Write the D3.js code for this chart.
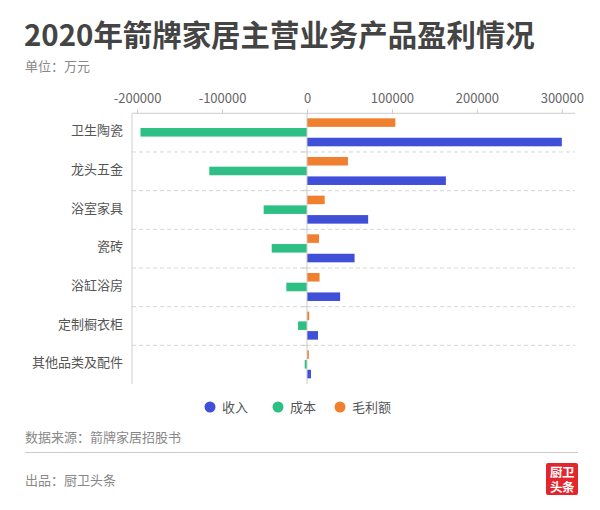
<!DOCTYPE html>
<html>
<head>
<meta charset="utf-8">
<script src="https://cdn.jsdelivr.net/npm/d3@7"></script>
<style>
  body { margin: 0; background: #fff; }
  svg { font-family: "Noto Sans CJK SC", "Noto Sans", sans-serif; }
</style>
</head>
<body>
<svg id="chart" width="600" height="510"></svg>
<script>
const categories = ["卫生陶瓷", "龙头五金", "浴室家具", "瓷砖", "浴缸浴房", "定制橱衣柜", "其他品类及配件"];
const seriesNames = ["收入", "成本", "毛利额"];
const income = [300000, 163500, 72000, 56000, 39000, 13000, 4700];
const cost = [-196000, -115000, -51000, -41500, -24300, -10500, -2700];
const profit = [104000, 48200, 20800, 14200, 14800, 2600, 2200];
const tickValues = [-200000, -100000, 0, 100000, 200000, 300000];
const colors = ["#3f4fd8", "#2dbf84", "#f08030"];

const svg = d3.select("#chart");
const plot = { left: 132, right: 575, top: 113.3, bottom: 384 };

// title block
const title = svg.append("text")
  .attr("x", 24).attr("y", 46)
  .attr("font-size", 29).attr("font-weight", "bold")
  .attr("fill", "#444")
  .text("2020年箭牌家居主营业务产品盈利情况");
// fit the title to the reference width
const tw = title.node().getComputedTextLength();
if (tw > 0) title.attr("font-size", 29 * 511 / tw);

svg.append("text")
  .attr("x", 25).attr("y", 71)
  .attr("font-size", 13).attr("fill", "#888")
  .text("单位：万元");

const x = d3.scaleLinear()
  .domain([-206000, 315500])
  .range([plot.left, plot.right]);

const y = d3.scaleBand()
  .domain(categories)
  .range([plot.top, plot.bottom]);

// top-to-bottom order inside a band: 毛利额, 成本, 收入
const ySeries = d3.scaleBand()
  .domain(["毛利额", "成本", "收入"])
  .range([5, 33])
  .paddingInner(0.12);

const g = svg.append("g");

// dashed separators between categories
g.selectAll(".sep")
  .data(categories.slice(1))
  .join("line")
  .attr("x1", plot.left).attr("x2", plot.right)
  .attr("y1", d => y(d)).attr("y2", d => y(d))
  .attr("stroke", "#d6d6d6")
  .attr("stroke-dasharray", "4,3");

// left frame line
g.append("line")
  .attr("x1", plot.left).attr("x2", plot.left)
  .attr("y1", plot.top).attr("y2", plot.bottom)
  .attr("stroke", "#d0d0d0");

// top axis
const xAxis = g.append("g")
  .attr("transform", `translate(0,${plot.top})`)
  .call(d3.axisTop(x).tickValues(tickValues).tickSize(4).tickFormat(d => d));
xAxis.select(".domain").attr("stroke", "#cccccc")
  .attr("d", `M${plot.left},0H${plot.right}`);
xAxis.selectAll(".tick line").attr("stroke", "#cccccc");
xAxis.selectAll(".tick text")
  .attr("font-size", 13).attr("fill", "#666")
  .attr("font-family", "Noto Sans CJK SC, sans-serif")
  .attr("y", -10);

const rows = categories.map((c, i) => ({
  cat: c,
  vals: [
    { name: "收入", v: income[i], color: colors[0] },
    { name: "成本", v: cost[i], color: colors[1] },
    { name: "毛利额", v: profit[i], color: colors[2] }
  ]
}));

const rowG = g.selectAll(".row")
  .data(rows)
  .join("g")
  .attr("transform", d => `translate(0,${y(d.cat)})`);

rowG.selectAll("rect")
  .data(d => d.vals)
  .join("rect")
  .attr("x", d => x(Math.min(0, d.v)))
  .attr("width", d => Math.abs(x(d.v) - x(0)))
  .attr("y", d => ySeries(d.name))
  .attr("height", ySeries.bandwidth())
  .attr("fill", d => d.color);

// zero line with small ticks at category boundaries
g.append("line")
  .attr("x1", x(0)).attr("x2", x(0))
  .attr("y1", plot.top).attr("y2", plot.bottom)
  .attr("stroke", "#cccccc");
g.selectAll(".ytick")
  .data(categories.slice(1))
  .join("line")
  .attr("x1", x(0) - 5).attr("x2", x(0))
  .attr("y1", d => y(d)).attr("y2", d => y(d))
  .attr("stroke", "#cccccc");

// category labels
g.selectAll(".cat")
  .data(categories)
  .join("text")
  .attr("x", 123)
  .attr("y", d => y(d) + y.bandwidth() / 2 - 2)
  .attr("dy", "0.35em")
  .attr("text-anchor", "end")
  .attr("font-size", 13).attr("fill", "#555")
  .text(d => d);

// legend
const legendX = [210, 278, 340];
const legend = svg.selectAll(".legend")
  .data(seriesNames)
  .join("g")
  .attr("transform", (d, i) => `translate(${legendX[i]},407)`);
legend.append("circle").attr("r", 5.5).attr("fill", (d, i) => colors[i]);
legend.append("text")
  .attr("x", 12).attr("dy", "0.35em")
  .attr("font-size", 13).attr("fill", "#555")
  .text(d => d);

// footer
svg.append("text")
  .attr("x", 25).attr("y", 442)
  .attr("font-size", 13).attr("fill", "#888")
  .text("数据来源：箭牌家居招股书");
svg.append("line")
  .attr("x1", 25).attr("x2", 578)
  .attr("y1", 452.5).attr("y2", 452.5)
  .attr("stroke", "#cccccc");
svg.append("text")
  .attr("x", 25).attr("y", 485)
  .attr("font-size", 13).attr("fill", "#888")
  .text("出品：厨卫头条");

const logo = svg.append("g").attr("transform", "translate(546,463)");
logo.append("rect").attr("width", 32).attr("height", 32).attr("rx", 2).attr("fill", "#e3262d");
logo.append("text").attr("x", 16).attr("y", 14).attr("text-anchor", "middle")
  .attr("font-size", 12.5).attr("font-weight", "bold").attr("fill", "#fff")
  .attr("letter-spacing", -0.5).text("厨卫");
logo.append("text").attr("x", 16).attr("y", 28.5).attr("text-anchor", "middle")
  .attr("font-size", 12.5).attr("font-weight", "bold").attr("fill", "#fff")
  .attr("letter-spacing", -0.5).text("头条");
</script>
</body>
</html>
